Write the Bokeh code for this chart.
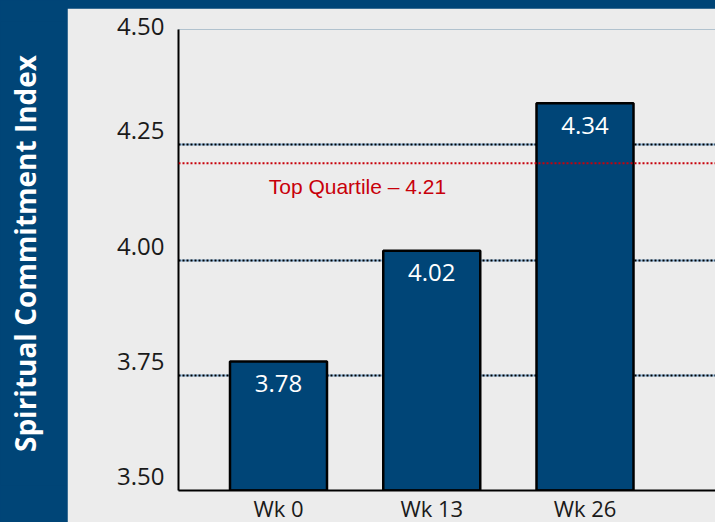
import math
from bokeh.plotting import figure
from bokeh.models import (Range1d, FixedTicker, Span, Label, ColumnDataSource,
                          Grid)
from bokeh.layouts import row
from bokeh.embed import file_html
from bokeh.resources import INLINE
from bokeh.core.properties import value

# ---- data ----
categories = ["Wk 0", "Wk 13", "Wk 26"]
scores = [3.78, 4.02, 4.34]
score_labels = ["3.78", "4.02", "4.34"]
y_ticks = [3.50, 3.75, 4.00, 4.25, 4.50]
y_tick_labels = ["3.50", "3.75", "4.00", "4.25", "4.50"]
top_quartile = 4.21
top_quartile_label = "Top Quartile \u2013 4.21"
y_title = "Spiritual Commitment Index"

NAVY = "#004577"
PANEL = "#ececec"
RED = "#c8000a"

idx = list(range(len(categories)))
src = ColumnDataSource(dict(x=idx, top=scores, label=score_labels))

# ---- left title band ----
p0 = figure(width=67, height=522, x_range=Range1d(0, 1), y_range=Range1d(0, 1),
            toolbar_location=None, output_backend="svg",
            x_axis_location=None, y_axis_location=None, min_border=0,
            background_fill_color=NAVY, border_fill_color=NAVY,
            outline_line_color=None)
p0.grid.visible = False
p0.text(x=[0.373], y=[0.5], text=[y_title], angle=math.pi / 2,
        text_align="center", text_baseline="middle", text_color="white",
        text_font=value("Open Sans"), text_font_style="bold",
        text_font_size="28px")

# ---- main chart ----
p = figure(width=648, height=519,
           x_range=Range1d(-0.6525, 2.8515), y_range=Range1d(y_ticks[0], y_ticks[-1]),
           toolbar_location=None, output_backend="svg",
           min_border_left=111, min_border_top=21, min_border_bottom=37,
           min_border_right=0,
           background_fill_color=PANEL, border_fill_color=PANEL,
           outline_line_color=None)
p.margin = (8, 0, 0, 0)

p.xgrid.visible = False
p.yaxis.ticker = FixedTicker(ticks=y_ticks)
p.yaxis.major_label_overrides = {t: s + "\n" for t, s in zip(y_ticks, y_tick_labels)}
# two-tone dotted gridlines: light blue underlay + black dots
p.ygrid.grid_line_color = "#8db4d8"
p.ygrid.grid_line_width = 2
p.add_layout(Grid(dimension=1, ticker=p.yaxis[0].ticker,
                  grid_line_color="black", grid_line_width=2,
                  grid_line_dash="2 2"))

for ax in (p.xaxis[0], p.yaxis[0]):
    ax.axis_line_color = "black"
    ax.axis_line_width = 2
    ax.major_tick_line_color = None
    ax.minor_tick_line_color = None
    ax.major_tick_in = 0
    ax.major_tick_out = 0
    ax.major_label_text_font = "Open Sans"
    ax.major_label_text_color = "#1a1a1a"

p.yaxis.major_label_text_font_size = "24px"
p.yaxis.major_label_standoff = 14
p.yaxis.major_label_text_line_height = 0.9
p.xaxis.ticker = FixedTicker(ticks=idx)
p.xaxis.major_label_overrides = {i: c for i, c in zip(idx, categories)}
p.xaxis.major_label_text_font_size = "22px"
p.xaxis.major_label_standoff = 2
p.xaxis.major_label_text_line_height = 0.8

p.vbar(x="x", top="top", bottom=y_ticks[0], width=0.633, source=src,
       fill_color=NAVY, line_color="black", line_width=2.5)

p.text(x="x", y="top", text="label", source=src, y_offset=22,
       text_align="center", text_baseline="middle", text_color="white",
       text_font=value("Open Sans"), text_font_size="24px")

p.add_layout(Span(location=top_quartile, dimension="width", line_color=RED,
                  line_width=2, line_dash="2 2"))
p.add_layout(Label(x=0.515, y=top_quartile, y_offset=-23, text=top_quartile_label,
                   text_align="center", text_baseline="middle", text_color=RED,
                   text_font="Liberation Sans", text_font_size="21px"))

layout = row(p0, p, height=522,
             styles={"background-color": NAVY, "overflow": "hidden"})
html = file_html(layout, INLINE)
html = html.replace("<body>", '<body style="background-color:#004577;overflow:hidden;">', 1)
open("out.html", "w").write(html)
